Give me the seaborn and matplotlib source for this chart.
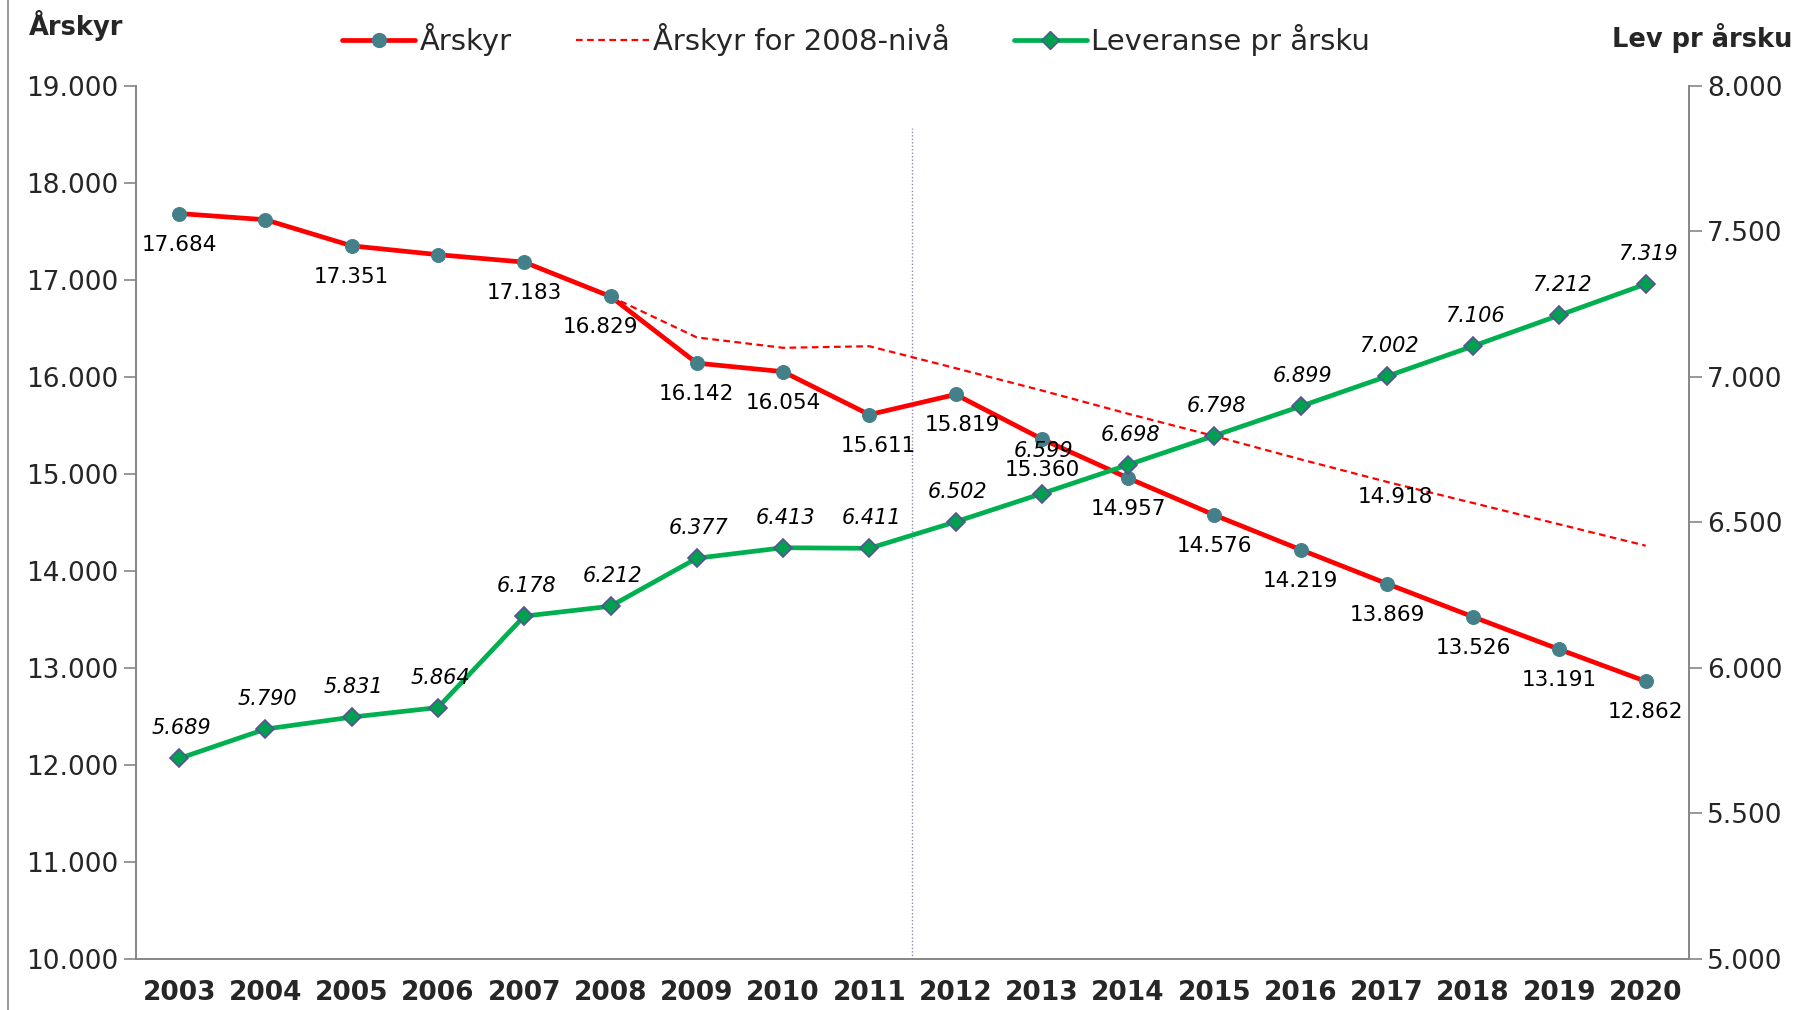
import numpy as np
import pandas as pd
import seaborn as sns
import matplotlib.pyplot as plt
from matplotlib.lines import Line2D
from matplotlib.ticker import FuncFormatter, MultipleLocator, FixedLocator

# --- data ---
years = list(range(2003, 2021))
arskyr = [17684, 17620, 17351, 17260, 17183, 16829, 16142, 16054, 15611,
          15819, 15360, 14957, 14576, 14219, 13869, 13526, 13191, 12862]
arskyr_label_years = [2003, 2005, 2007, 2008, 2009, 2010, 2011, 2012, 2013,
                      2014, 2015, 2016, 2017, 2018, 2019, 2020]
niva_years = list(range(2008, 2021))
niva_2008 = [16829, 16407, 16300, 16316, 16090, 15860, 15620, 15390, 15150,
             14918, 14700, 14480, 14260]
niva_label_years = [2017]
leveranse = [5689, 5790, 5831, 5864, 6178, 6212, 6377, 6413, 6411,
             6502, 6599, 6698, 6798, 6899, 7002, 7106, 7212, 7319]
split_after = 2011

df = pd.DataFrame({'year': years, 'arskyr': arskyr, 'leveranse': leveranse})
df_niva = pd.DataFrame({'year': niva_years, 'niva': niva_2008})

RED = '#ff0000'
TEAL = '#44808a'
GREEN = '#00b050'
DIAMOND = '#00a050'
GREY = '#868686'

sns.set_style('white')
plt.rcParams['font.family'] = ['DejaVu Sans']

def dotted(v, pos=None):
    return f'{v:,.0f}'.replace(',', '.')

fig, ax = plt.subplots(figsize=(18.14, 10.10), dpi=100)
fig.subplots_adjust(left=0.075, right=0.931, bottom=0.0505, top=0.915)

sns.lineplot(data=df, x='year', y='arskyr', ax=ax, color=RED, lw=3.4,
             marker='o', markersize=10, markerfacecolor=TEAL,
             markeredgecolor=TEAL, label='Årskyr', legend=False, zorder=3)
sns.lineplot(data=df_niva, x='year', y='niva', ax=ax, color=RED, lw=1.6,
             linestyle=(0, (3, 2)), label='Årskyr for 2008-nivå',
             legend=False, zorder=2)

ax.set_xlim(years[0] - 0.5, years[-1] + 0.5)
ax.set_ylim(10000, 19000)
ax.yaxis.set_major_locator(MultipleLocator(1000))
ax.yaxis.set_major_formatter(FuncFormatter(dotted))
ax.set_xticks(years)
ax.set_xticklabels([str(y) for y in years], fontweight='bold', fontsize=19)
ax.xaxis.set_minor_locator(FixedLocator([y - 0.5 for y in years] + [years[-1] + 0.5]))
ax.tick_params(axis='x', which='major', length=0, pad=15)
ax.tick_params(axis='x', which='minor', length=9, width=1.2, color=GREY,
               direction='out')
ax.tick_params(axis='y', length=9, width=1.2, color=GREY, direction='out',
               labelsize=19, pad=4)
ax.set_xlabel('')
ax.set_ylabel('')
for side in ['left', 'bottom']:
    ax.spines[side].set_color(GREY)
    ax.spines[side].set_linewidth(1.4)
ax.spines['top'].set_visible(False)
ax.spines['right'].set_visible(False)

# divider between 2011 and 2012
ax.axvline(split_after + 0.5, ymin=0, ymax=(18570 - 10000) / 9000,
           color='#8a8ab4', lw=1.0, linestyle=(0, (1, 1.5)), zorder=1)

ax2 = ax.twinx()
sns.lineplot(data=df, x='year', y='leveranse', ax=ax2, color=GREEN, lw=3.4,
             marker='D', markersize=9.5, markerfacecolor=DIAMOND,
             markeredgecolor='#5b4f96', markeredgewidth=1.2,
             label='Leveranse pr årsku', legend=False, zorder=3)
ax2.set_ylim(5000, 8000)
ax2.yaxis.set_major_locator(MultipleLocator(500))
ax2.yaxis.set_major_formatter(FuncFormatter(dotted))
ax2.tick_params(axis='y', length=9, width=1.2, color=GREY, direction='out',
                labelsize=19, pad=4)
ax2.set_ylabel('')
for side in ['left', 'bottom', 'top']:
    ax2.spines[side].set_visible(False)
ax2.spines['right'].set_color(GREY)
ax2.spines['right'].set_linewidth(1.4)
ax2.set_xlim(ax.get_xlim())

# data labels
red_shift = {2008: -10, 2011: 9, 2012: 7}
for y, v in zip(years, arskyr):
    if y in arskyr_label_years:
        ax.annotate(dotted(v), (y, v), xytext=(red_shift.get(y, 0), -31),
                    textcoords='offset pixels', ha='center', va='center',
                    fontsize=15.5, color='black', zorder=5)
for y, v in zip(niva_years, niva_2008):
    if y in niva_label_years:
        ax.annotate(dotted(v), (y, v), xytext=(8, -15),
                    textcoords='offset pixels', ha='center', va='center',
                    fontsize=15.5, color='black', zorder=5)
green_lift = {2013: 43}
for y, v in zip(years, leveranse):
    ax2.annotate(dotted(v), (y, v), xytext=(2, green_lift.get(y, 30)),
                 textcoords='offset pixels', ha='center', va='center',
                 fontsize=15, style='italic', color='black', zorder=5)

# legend
handles = [
    Line2D([], [], color=RED, lw=3.4, marker='o', markersize=10,
           markerfacecolor=TEAL, markeredgecolor=TEAL),
    Line2D([], [], color=RED, lw=1.6, linestyle=(0, (3, 2))),
    Line2D([], [], color=GREEN, lw=3.4, marker='D', markersize=9.5,
           markerfacecolor=DIAMOND, markeredgecolor='#5b4f96'),
]
fig.legend(handles, ['Årskyr', 'Årskyr for 2008-nivå', 'Leveranse pr årsku'],
           loc='center', bbox_to_anchor=(0.472, 0.961), ncol=3, frameon=False,
           fontsize=21, handlelength=2.5, handletextpad=0.15, columnspacing=2.2)

fig.text(0.016, 0.975, 'Årskyr', fontsize=18.5, fontweight='bold',
         ha='left', va='center')
fig.text(0.988, 0.962, 'Lev pr årsku', fontsize=18.5, fontweight='bold',
         ha='right', va='center')
fig.add_artist(Line2D([0.0045, 0.0045], [0, 1], transform=fig.transFigure,
                      color=GREY, lw=1.2))

fig.savefig('out.png', dpi=100)
